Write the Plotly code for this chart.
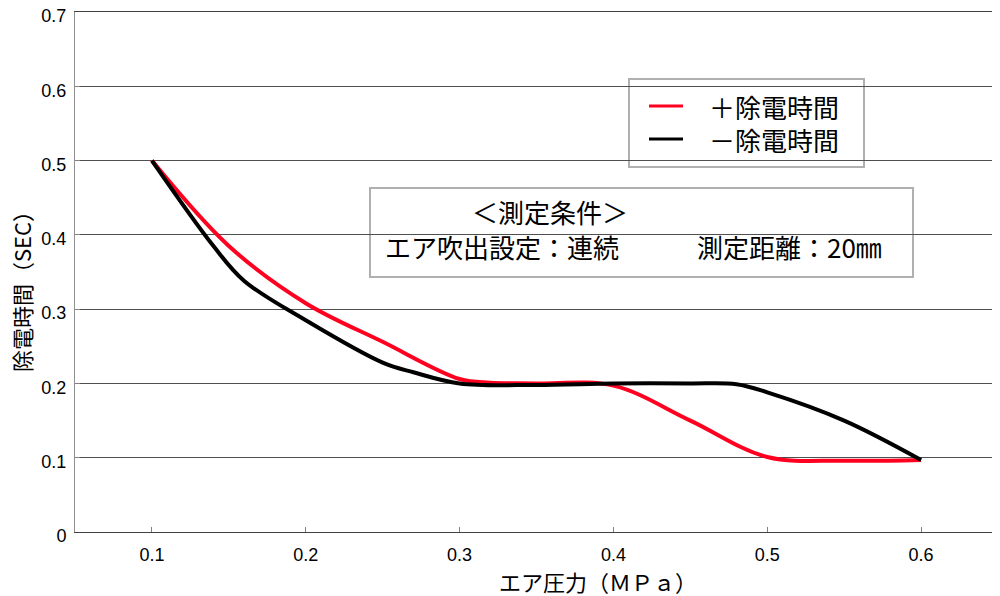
import plotly.graph_objects as go

# エア圧力 (MPa) と除電時間 (SEC)
plus_x = [0.1, 0.15, 0.2, 0.25, 0.3, 0.32, 0.35, 0.4, 0.45, 0.5, 0.55, 0.6]
plus_y = [0.5, 0.385, 0.308, 0.256, 0.206, 0.201, 0.2, 0.197, 0.15, 0.101, 0.096, 0.097]

minus_x = [0.1, 0.14, 0.16, 0.2, 0.25, 0.27, 0.3, 0.35, 0.4, 0.45, 0.48, 0.5, 0.55, 0.6]
minus_y = [0.5, 0.385, 0.338, 0.285, 0.228, 0.215, 0.2, 0.198, 0.2, 0.2, 0.199, 0.188, 0.15, 0.097]

series_names = ['＋除電時間', '－除電時間']
series_colors = ['#ff0020', '#000000']

x_ticks = [0.1, 0.2, 0.3, 0.4, 0.5, 0.6]
y_ticks = [0, 0.1, 0.2, 0.3, 0.4, 0.5, 0.6, 0.7]
y_labels = ['0', '0.1', '0.2', '0.3', '0.4', '0.5', '0.6', '0.7']

JP = "Noto Sans CJK JP"
LAT = "Liberation Sans, Arial, sans-serif"

fig = go.Figure()
fig.add_trace(go.Scatter(x=plus_x, y=plus_y, mode='lines', name=series_names[0],
                         line=dict(color=series_colors[0], width=4, shape='spline')))
fig.add_trace(go.Scatter(x=minus_x, y=minus_y, mode='lines', name=series_names[1],
                         line=dict(color=series_colors[1], width=4, shape='spline')))

# page has an 8px body margin, so the figure is a bit smaller and the
# helpers below take positions in page pixels (plot area 75..998 x 12..532)
def px(v):
    return (v - 75) / 923
def py(v):
    return (532 - v) / 520

shapes = [
    dict(type='rect', xref='paper', yref='paper', x0=px(629), x1=px(864), y0=py(167), y1=py(79),
         line=dict(color='#b0b0b0', width=2), fillcolor='white', layer='below'),
    dict(type='rect', xref='paper', yref='paper', x0=px(370), x1=px(913), y0=py(277), y1=py(188),
         line=dict(color='#b0b0b0', width=2), fillcolor='white', layer='below'),
]
annotations = [
    dict(text='＜測定条件＞', xref='paper', yref='paper', x=px(470), y=py(211),
         xanchor='left', yanchor='middle', showarrow=False, font=dict(family=JP, size=26)),
    dict(text='エア吹出設定：連続\u3000\u3000\u3000測定距離：20㎜', xref='paper', yref='paper',
         x=px(383), y=py(247), xanchor='left', yanchor='middle', showarrow=False,
         font=dict(family=JP, size=26)),
    dict(text='除電時間（SEC）', xref='paper', yref='paper', x=px(21), y=py(286),
         xanchor='center', yanchor='middle', textangle=-90, showarrow=False,
         font=dict(family=JP, size=22)),
    dict(text='エア圧力（ＭＰａ）', xref='paper', yref='paper', x=px(598), y=py(581),
         xanchor='center', yanchor='middle', showarrow=False, font=dict(family=JP, size=22)),
]

# legend drawn by hand
for i, (name, col) in enumerate(zip(series_names, series_colors)):
    ly = 106 + 33 * i
    shapes.append(dict(type='line', xref='paper', yref='paper', x0=px(649), x1=px(683),
                       y0=py(ly), y1=py(ly), line=dict(color=col, width=3)))
    annotations.append(dict(text=name, xref='paper', yref='paper', x=px(707), y=py(ly),
                            xanchor='left', yanchor='middle', showarrow=False,
                            font=dict(family=JP, size=26)))

fig.update_layout(
    width=992, height=588,
    margin=dict(l=67, r=2, t=4, b=64),
    paper_bgcolor='white', plot_bgcolor='white',
    font=dict(family=LAT, size=18, color='black'),
    showlegend=False,
    xaxis=dict(range=[0.05, 0.65], tickvals=x_ticks, ticktext=[str(t) for t in x_ticks],
               showgrid=False, zeroline=False, showline=True, linecolor='#404040', linewidth=1,
               mirror=True, ticks='inside', ticklen=5, tickcolor='#808080', automargin=False,
               ticklabelstandoff=6, tickfont=dict(family=LAT, size=18)),
    yaxis=dict(range=[0, 0.7], tickvals=y_ticks, ticktext=y_labels,
               showgrid=True, gridcolor='#505050', gridwidth=1, zeroline=False,
               showline=True, linecolor='#909090', linewidth=1, mirror=True, automargin=False,
               ticks='inside', ticklen=5, tickcolor='#808080', ticklabeloverflow='allow',
               ticklabelshift=4, ticklabelstandoff=4, tickfont=dict(family=LAT, size=18)),
    shapes=shapes,
    annotations=annotations,
)

fig.write_html("out.html")
